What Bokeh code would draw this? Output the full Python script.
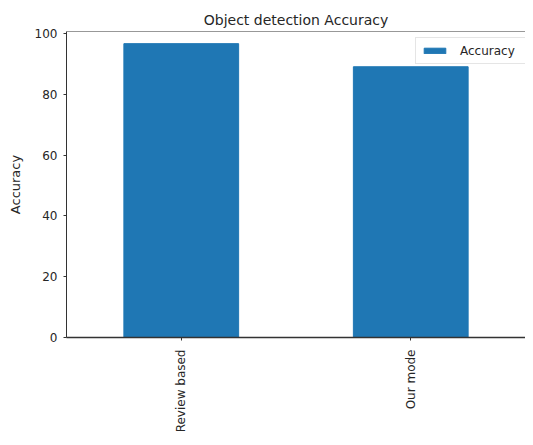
import math
from bokeh.plotting import figure
from bokeh.models import Range1d, FixedTicker, Span, Legend, LegendItem, ColumnDataSource
from bokeh.embed import file_html
from bokeh.resources import INLINE

categories = ["Review based", "Our mode"]
accuracy = [96.7, 89.1]
y_ticks = [0, 20, 40, 60, 80, 100]

FONT = "DejaVu Sans"
TXT = "#262626"
AX = "#333333"

src = ColumnDataSource(dict(x=list(range(len(categories))), top=accuracy))

p = figure(width=525, height=437, output_backend="svg", toolbar_location=None,
           x_range=Range1d(-0.5, 1.5), y_range=Range1d(0, 100.7),
           min_border_left=66, min_border_right=0, min_border_bottom=100, min_border_top=31,
           title="Object detection Accuracy")

r = p.vbar(x="x", top="top", width=0.5, source=src, color="#1f77b4")

p.title.align = "center"
p.title.text_font = FONT
p.title.text_font_size = "14px"
p.title.text_font_style = "normal"
p.title.text_color = TXT
p.title.standoff = 7

p.xgrid.visible = False
p.ygrid.visible = False
p.outline_line_color = None

p.xaxis.ticker = FixedTicker(ticks=list(range(len(categories))))
p.xaxis.major_label_overrides = {i: c for i, c in enumerate(categories)}
p.xaxis.major_label_orientation = math.pi / 2
p.xaxis.major_label_text_font_size = "12px"
p.xaxis.major_label_standoff = 9
p.xaxis.axis_line_width = 1.5

p.yaxis.ticker = FixedTicker(ticks=y_ticks)
p.yaxis.major_label_text_font_size = "12px"
p.yaxis.axis_label = "Accuracy"
p.yaxis.axis_label_text_font_size = "13px"
p.yaxis.axis_label_text_font_style = "normal"
p.yaxis.axis_label_standoff = 9
p.yaxis.major_label_standoff = 6

for ax in (p.xaxis, p.yaxis):
    ax.minor_tick_line_color = None
    ax.major_tick_in = 0
    ax.major_tick_out = 3
    ax.major_tick_line_color = AX
    ax.axis_line_color = AX
    ax.major_label_text_font = FONT
    ax.major_label_text_color = TXT
    ax.axis_label_text_font = FONT
    ax.axis_label_text_color = TXT

top_spine = Span(location=p.y_range.end, dimension="width", line_color=AX, line_width=1)
p.add_layout(top_spine)

legend = Legend(items=[LegendItem(label="Accuracy", renderers=[r])], location=(349, 273),
                margin=0, padding=5, glyph_width=27, glyph_height=7, label_height=15,
                label_width=68, label_standoff=12, label_text_font=FONT,
                label_text_font_size="12px", label_text_color=TXT,
                border_line_color="#cccccc", border_line_width=1,
                background_fill_alpha=0.8)
p.add_layout(legend)

open("out.html", "w").write(file_html(p, INLINE))
